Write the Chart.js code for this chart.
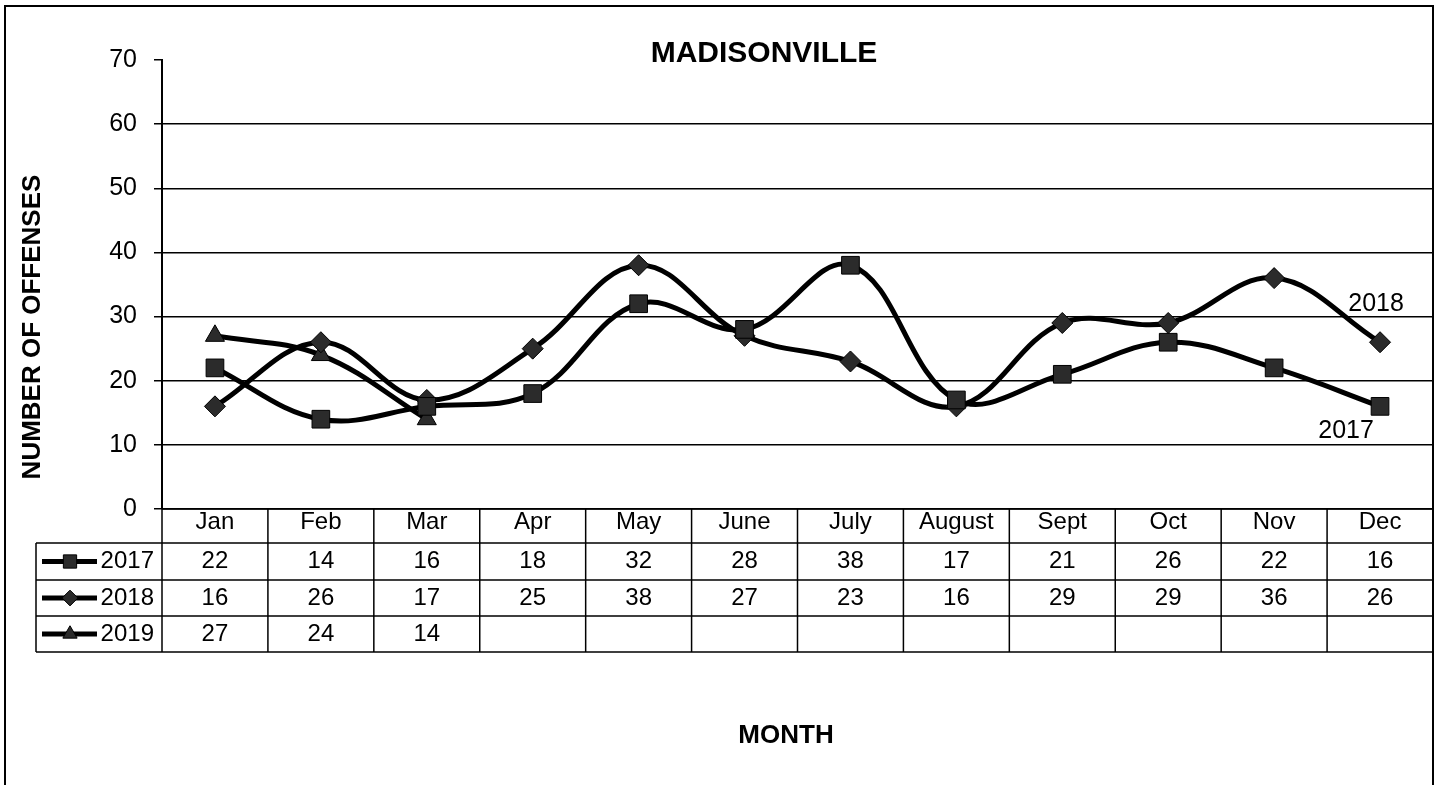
<!DOCTYPE html>
<html>
<head>
<meta charset="utf-8">
<script src="https://cdn.jsdelivr.net/npm/chart.js@4.4.1/dist/chart.umd.min.js"></script>
<style>
body { margin: 0; background: #fff; }
canvas { display: block; }
</style>
</head>
<body>
<canvas id="lineChart" width="1440" height="785"></canvas>
<script>
let months = ['Jan', 'Feb', 'Mar', 'Apr', 'May', 'June', 'July', 'August', 'Sept', 'Oct', 'Nov', 'Dec'];
let years = ['2017', '2018', '2019'];
let offenses2017 = [22, 14, 16, 18, 32, 28, 38, 17, 21, 26, 22, 16];
let offenses2018 = [16, 26, 17, 25, 38, 27, 23, 16, 29, 29, 36, 26];
let offenses2019 = [27, 24, 14, null, null, null, null, null, null, null, null, null];
let yTicks = [0, 10, 20, 30, 40, 50, 60, 70];

const FONT = '"Liberation Sans", Arial, sans-serif';
const markFill = '#2b2b2b';

// table rows under the plot: top line is the x axis itself
const rowLines = [543, 580, 616, 652];
const keyLeft = 36;

let seriesStyles = [
    { pointStyle: 'rect', pointRadius: 12.5 },
    { pointStyle: 'rectRot', pointRadius: 10.5 },
    { pointStyle: 'triangle', pointRadius: 11 }
];

function markerAt(ctx, style, r, x, y) {
    ctx.save();
    ctx.fillStyle = markFill;
    ctx.strokeStyle = '#000';
    ctx.lineWidth = 1;
    if (Chart.helpers && Chart.helpers.drawPoint) {
        Chart.helpers.drawPoint(ctx, { pointStyle: style, radius: r, rotation: 0, borderWidth: 1 }, x, y);
    }
    ctx.restore();
}

const tablePlugin = {
    id: 'tablePlugin',
    afterDraw(chart) {
        let ctx = chart.ctx;
        let area = chart.chartArea;
        let xs = chart.scales.x;
        let tableTop = area.bottom;
        let valueRows = [offenses2017, offenses2018, offenses2019];

        ctx.save();
        ctx.strokeStyle = '#000';

        // outer frame
        ctx.lineWidth = 2;
        ctx.beginPath();
        ctx.moveTo(5, 785);
        ctx.lineTo(5, 6);
        ctx.lineTo(area.right, 6);
        ctx.lineTo(area.right, 785);
        ctx.stroke();

        // column edges
        let edges = [area.left];
        for (let i = 0; i < months.length - 1; i++) {
            edges.push((xs.getPixelForValue(i) + xs.getPixelForValue(i + 1)) / 2);
        }
        edges.push(area.right);

        ctx.lineWidth = 1.5;
        ctx.beginPath();
        ctx.moveTo(area.left, tableTop);
        ctx.lineTo(area.right, tableTop);
        rowLines.forEach(y => {
            ctx.moveTo(keyLeft, y);
            ctx.lineTo(area.right, y);
        });
        edges.forEach(x => {
            ctx.moveTo(x, tableTop);
            ctx.lineTo(x, rowLines[rowLines.length - 1]);
        });
        ctx.moveTo(keyLeft, rowLines[0]);
        ctx.lineTo(keyLeft, rowLines[rowLines.length - 1]);
        ctx.stroke();

        // table text
        ctx.fillStyle = '#000';
        ctx.font = '24px ' + FONT;
        ctx.textAlign = 'center';
        ctx.textBaseline = 'middle';
        months.forEach((m, i) => {
            ctx.fillText(m, xs.getPixelForValue(i), (tableTop + rowLines[0]) / 2 - 4);
        });
        valueRows.forEach((vals, r) => {
            let yc = (rowLines[r] + rowLines[r + 1]) / 2;
            vals.forEach((v, i) => {
                if (v !== null) ctx.fillText(String(v), xs.getPixelForValue(i), yc);
            });
            // legend key
            ctx.save();
            ctx.lineWidth = 5;
            ctx.beginPath();
            ctx.moveTo(42, yc);
            ctx.lineTo(97, yc);
            ctx.stroke();
            ctx.restore();
            markerAt(ctx, seriesStyles[r].pointStyle, seriesStyles[r].pointRadius * 0.75, 70, yc);
            ctx.textAlign = 'right';
            ctx.fillText(years[r], 154, yc);
            ctx.textAlign = 'center';
        });

        // labels next to the last points
        let p17 = chart.getDatasetMeta(0).data[11];
        let p18 = chart.getDatasetMeta(1).data[11];
        ctx.font = '25px ' + FONT;
        ctx.fillText('2018', p18.x - 4, p18.y - 38);
        ctx.fillText('2017', p17.x - 34, p17.y + 25);

        // titles
        ctx.font = 'bold 30px ' + FONT;
        ctx.fillText('MADISONVILLE', 764, 54);
        ctx.font = 'bold 26px ' + FONT;
        ctx.fillText('MONTH', 786, 736);
        ctx.translate(33, 327);
        ctx.rotate(-Math.PI / 2);
        ctx.fillText('NUMBER OF OFFENSES', 0, 0);
        ctx.restore();
    }
};

function makeSet(label, data, i) {
    return {
        label: label,
        data: data,
        borderColor: '#000',
        borderWidth: 5,
        backgroundColor: markFill,
        pointStyle: seriesStyles[i].pointStyle,
        pointRadius: seriesStyles[i].pointRadius,
        pointBackgroundColor: markFill,
        pointBorderColor: '#000',
        pointBorderWidth: 1,
        tension: 0.38,
        spanGaps: false,
        clip: false
    };
}

window.onload = function () {
    let ctx = document.getElementById('lineChart').getContext('2d');
    window.myLine = new Chart(ctx, {
        type: 'line',
        data: {
            labels: months,
            datasets: [
                makeSet(years[0], offenses2017, 0),
                makeSet(years[1], offenses2018, 1),
                makeSet(years[2], offenses2019, 2)
            ]
        },
        options: {
            responsive: false,
            animation: false,
            devicePixelRatio: 1,
            layout: { autoPadding: false, padding: { left: 0, top: 60, right: 7, bottom: 276 } },
            plugins: {
                legend: { display: false },
                title: { display: false },
                tooltip: { enabled: false }
            },
            scales: {
                x: {
                    type: 'category',
                    display: false,
                    offset: true
                },
                y: {
                    min: 0,
                    max: 70,
                    afterBuildTicks: scale => { scale.ticks = yTicks.map(v => ({ value: v })); },
                    afterFit: scale => { scale.width = 162; },
                    border: { display: true, color: '#000', width: 2 },
                    grid: {
                        color: c => (c.tick && c.tick.value === 70) ? 'rgba(0,0,0,0)' : '#000',
                        tickColor: '#000',
                        lineWidth: 1.5,
                        tickLength: 8
                    },
                    ticks: {
                        color: '#000',
                        padding: 17,
                        font: { family: FONT, size: 25 }
                    }
                }
            }
        },
        plugins: [tablePlugin]
    });
};
</script>
</body>
</html>
